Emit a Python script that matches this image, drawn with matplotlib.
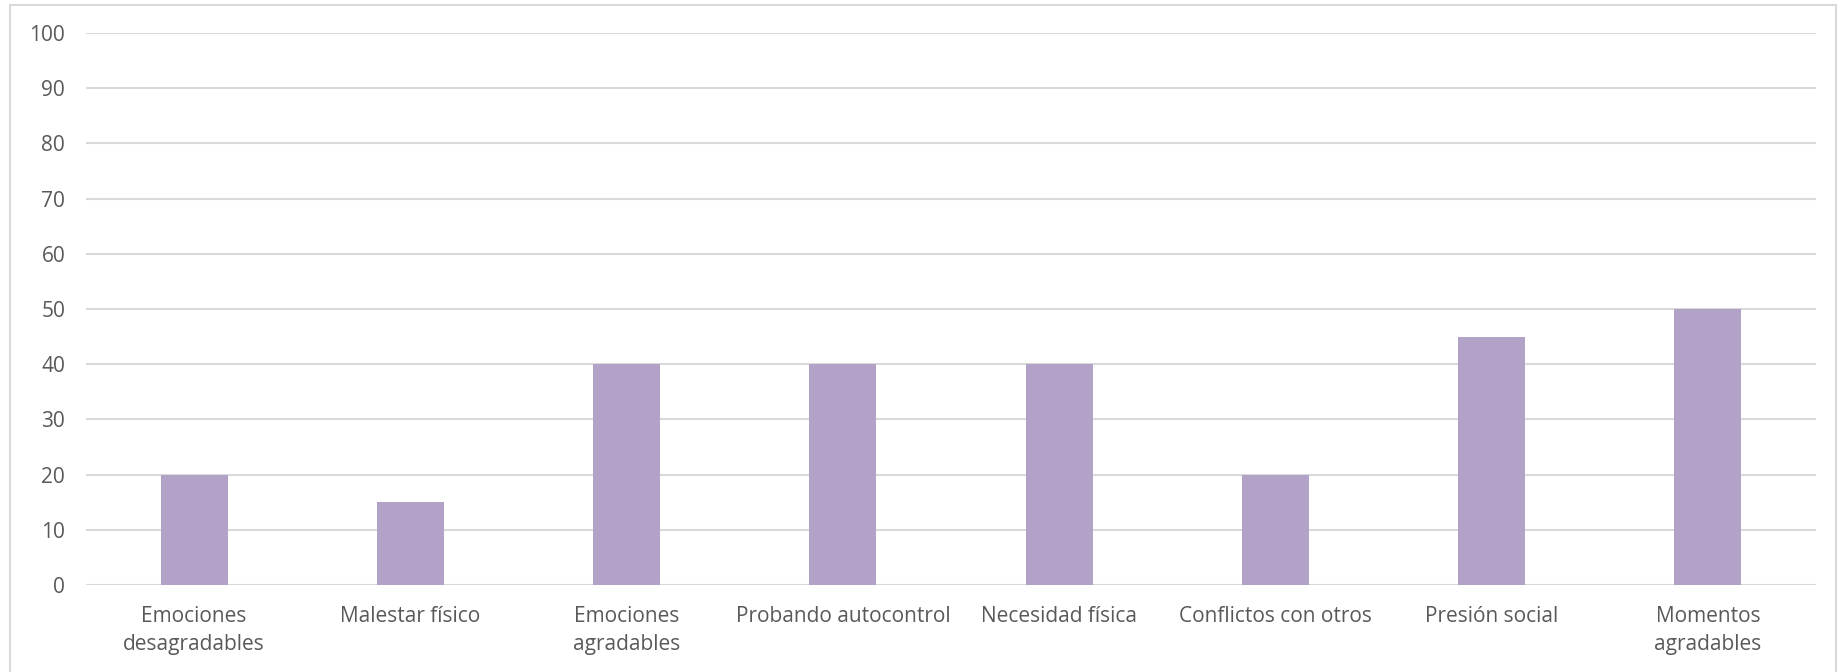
import matplotlib.pyplot as plt
from matplotlib.patches import Rectangle

categorias = ["Emociones\ndesagradables", "Malestar físico", "Emociones\nagradables",
              "Probando autocontrol", "Necesidad física", "Conflictos con otros",
              "Presión social", "Momentos\nagradables"]
valores = [20, 15, 40, 40, 40, 20, 45, 50]
yticks = [0, 10, 20, 30, 40, 50, 60, 70, 80, 90, 100]

W, H = 1838, 672
fig = plt.figure(figsize=(W / 100, H / 100), dpi=100)
plt.rcParams['font.family'] = ['Open Sans', 'DejaVu Sans']

# marco exterior del gráfico
fig.patches.append(Rectangle((10 / W, -0.05), (1836 - 10) / W, 1.05 - 5 / H,
                             transform=fig.transFigure, fill=False,
                             edgecolor='#D9D9D9', linewidth=1.5))

ax = fig.add_axes([86 / W, 1 - 585 / H, (1816 - 86) / W, (585 - 33) / H])
x = range(len(categorias))
ax.bar(x, valores, width=0.31, color='#B2A2C7', zorder=3)

ax.set_ylim(0, 100)
ax.set_xlim(-0.5, len(categorias) - 0.5)
ax.set_yticks(yticks)
ax.set_xticks(list(x))
ax.set_xticklabels(categorias, fontsize=15, color='#595959', linespacing=1.45)
ax.tick_params(axis='y', labelsize=15, labelcolor='#595959', length=0, pad=15)
ax.tick_params(axis='x', length=0, pad=15)
ax.grid(axis='y', color='#D9D9D9', linewidth=1.5, zorder=0)
for s in ax.spines.values():
    s.set_visible(False)

fig.savefig('out.png', dpi=100)
